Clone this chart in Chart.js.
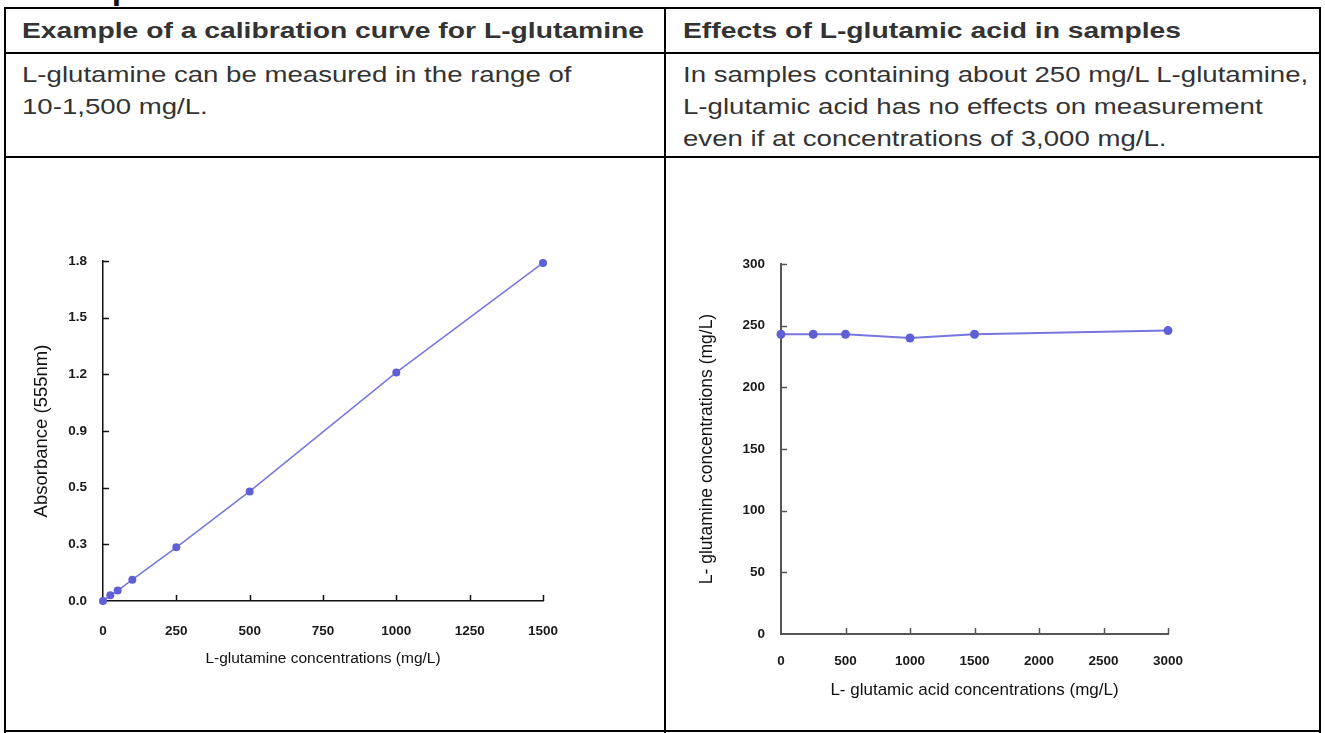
<!DOCTYPE html>
<html>
<head>
<meta charset="utf-8">
<script src="https://cdn.jsdelivr.net/npm/chart.js@4.4.1/dist/chart.umd.min.js"></script>
<style>
  html, body { margin: 0; padding: 0; background: #fff; }
  #page { position: relative; width: 1325px; height: 733px; overflow: hidden; font-family: "Liberation Sans", Arial, Helvetica, sans-serif; color: #333; }
  .hl { position: absolute; background: #000; height: 2px; }
  .vl { position: absolute; background: #000; width: 2px; }
  .txt { position: absolute; font-size: 22px; line-height: 32px; white-space: nowrap; transform: scaleX(1.255); transform-origin: 0 0; }
  .hd { position: absolute; font-size: 22px; font-weight: bold; white-space: nowrap; line-height: 32px; transform: scaleX(1.285); transform-origin: 0 0; }
  canvas { position: absolute; }
  #cut { position: absolute; left: 22px; top: -25px; font-size: 28px; font-weight: bold; color: #111; transform: scaleX(1.2); transform-origin: 0 0; }
</style>
</head>
<body>
<div id="page">
  <div id="cut">Examples</div>
  <div class="hl" style="left:5px; top:7px; width:1316px;"></div>
  <div class="hl" style="left:5px; top:52px; width:1316px;"></div>
  <div class="hl" style="left:5px; top:156px; width:1316px;"></div>
  <div class="hl" style="left:5px; top:730px; width:1316px;"></div>
  <div class="vl" style="left:4px; top:7px; height:726px;"></div>
  <div class="vl" style="left:664px; top:7px; height:726px;"></div>
  <div class="vl" style="left:1319px; top:7px; height:726px;"></div>

  <div class="hd" style="left:22px; top:15px;">Example of a calibration curve for L-glutamine</div>
  <div class="hd" style="left:683px; top:15px;">Effects of L-glutamic acid in samples</div>

  <div class="txt" style="left:22px; top:59px;">L-glutamine can be measured in the range of<br>10-1,500 mg/L.</div>
  <div class="txt" style="left:683px; top:59px;">In samples containing about 250 mg/L L-glutamine,<br>L-glutamic acid has no effects on measurement<br>even if at concentrations of 3,000 mg/L.</div>

  <canvas id="c1" width="657" height="570" style="left:6px; top:160px; width:657px; height:570px;"></canvas>
  <canvas id="c2" width="652" height="570" style="left:667px; top:160px; width:652px; height:570px;"></canvas>
</div>
<script>
// ---- Data: calibration curve ----
const calibConc = [0, 25, 50, 100, 250, 500, 1000, 1500];
const calibAbs = [0, 0.03, 0.055, 0.113, 0.284, 0.58, 1.21, 1.79];
const calibXTicks = ["0", "250", "500", "750", "1000", "1250", "1500"];
const calibYTicks = ["0.0", "0.3", "0.5", "0.9", "1.2", "1.5", "1.8"];

// ---- Data: glutamic acid effect ----
const gluAcidConc = [0, 250, 500, 1000, 1500, 3000];
const glnMeasured = [243, 243, 243, 240, 243, 246];
const effXTicks = ["0", "500", "1000", "1500", "2000", "2500", "3000"];
const effYTicks = ["0", "50", "100", "150", "200", "250", "300"];

const FONT = "'Liberation Sans', Arial, Helvetica, sans-serif";
const lineCol = 'rgb(118,118,222)';
const ptCol = 'rgb(96,96,214)';

const inwardTicks = {
  id: 'inwardTicks',
  afterDraw(chart, args, opts) {
    const ctx = chart.ctx;
    const xs = chart.scales.x, ys = chart.scales.y;
    const area = chart.chartArea;
    ctx.save();
    ctx.strokeStyle = opts.color;
    ctx.lineWidth = opts.width;
    ys.ticks.forEach(t => {
      if (t.value === ys.min) return;
      const py = Math.round(ys.getPixelForValue(t.value)) + 0.5;
      ctx.beginPath();
      ctx.moveTo(area.left, py);
      ctx.lineTo(area.left + opts.len, py);
      ctx.stroke();
    });
    xs.ticks.forEach(t => {
      if (t.value === xs.min) return;
      const px = Math.round(xs.getPixelForValue(t.value)) + 0.5;
      ctx.beginPath();
      ctx.moveTo(px, area.bottom);
      ctx.lineTo(px, area.bottom - opts.len);
      ctx.stroke();
    });
    ctx.restore();
  }
};

function makeChart(id, cfg) {
  return new Chart(document.getElementById(id), {
    type: 'scatter',
    data: {
      datasets: [{
        data: cfg.xs.map((x, i) => ({ x: x, y: cfg.ys[i] })),
        showLine: true,
        borderColor: lineCol,
        borderWidth: cfg.lineW,
        backgroundColor: ptCol,
        pointBackgroundColor: ptCol,
        pointBorderColor: ptCol,
        pointRadius: cfg.ptR,
        pointBorderWidth: 0,
        tension: 0,
        clip: false
      }]
    },
    options: {
      responsive: false,
      animation: false,
      events: [],
      layout: { padding: cfg.pad },
      plugins: {
        legend: { display: false },
        tooltip: { enabled: false },
        inwardTicks: { color: cfg.axisCol, width: cfg.tickW, len: 6 }
      },
      scales: {
        x: {
          type: 'linear', min: cfg.xMin, max: cfg.xMax,
          afterFit: s => { s.height = cfg.xH; },
          afterBuildTicks: s => { s.ticks = cfg.xTickLabels.map((l, i) => ({ value: cfg.xMin + i * cfg.xStep })); },
          grid: { display: false, drawTicks: false },
          border: { display: true, color: cfg.axisCol, width: cfg.axisW },
          ticks: {
            autoSkip: false, maxRotation: 0, padding: cfg.xTickPad,
            color: '#1a1a1a', font: { family: FONT, size: cfg.tickSize, weight: 'bold' },
            callback: (v, i) => cfg.xTickLabels[i]
          },
          title: {
            display: true, text: cfg.xTitle, color: '#111',
            font: { family: FONT, size: cfg.xTitleSize },
            padding: { top: 0, bottom: cfg.xTitlePad }
          }
        },
        y: {
          type: 'linear', min: cfg.yMin, max: cfg.yMax,
          afterFit: s => { s.width = cfg.yW; },
          afterBuildTicks: s => { s.ticks = cfg.yTickLabels.map((l, i) => ({ value: cfg.yMin + i * cfg.yStep })); },
          grid: { display: false, drawTicks: false },
          border: { display: true, color: cfg.axisCol, width: cfg.axisW },
          ticks: {
            autoSkip: false, padding: cfg.yTickPad,
            color: '#1a1a1a', font: { family: FONT, size: cfg.tickSize, weight: 'bold' },
            callback: (v, i) => cfg.yTickLabels[i]
          },
          title: {
            display: true, text: cfg.yTitle, color: '#111',
            font: { family: FONT, size: cfg.yTitleSize },
            padding: { top: cfg.yTitlePad, bottom: 0 }
          }
        }
      }
    },
    plugins: [inwardTicks]
  });
}

makeChart('c1', {
  xs: calibConc, ys: calibAbs,
  xMin: 0, xMax: 1500, xStep: 250, xTickLabels: calibXTicks,
  yMin: 0, yMax: 1.8, yStep: 0.3, yTickLabels: calibYTicks,
  xTitle: 'L-glutamine concentrations (mg/L)',
  yTitle: 'Absorbance (555nm)',
  pad: { left: 0, right: 120, top: 101, bottom: 0 },
  yW: 97, xH: 129, xTickPad: 22, yTickPad: 16,
  xTitlePad: 61.7, yTitlePad: 25,
  tickSize: 13.5, xTitleSize: 15.5, yTitleSize: 18.5,
  axisCol: '#111', axisW: 1.5, tickW: 1.5,
  lineW: 1.5, ptR: 4
});

makeChart('c2', {
  xs: gluAcidConc, ys: glnMeasured,
  xMin: 0, xMax: 3000, xStep: 500, xTickLabels: effXTicks,
  yMin: 0, yMax: 300, yStep: 50, yTickLabels: effYTicks,
  xTitle: 'L- glutamic acid concentrations (mg/L)',
  yTitle: 'L- glutamine concentrations (mg/L)',
  pad: { left: 0, right: 151, top: 104, bottom: 0 },
  yW: 114, xH: 96, xTickPad: 19, yTickPad: 16,
  xTitlePad: 29.8, yTitlePad: 29.8,
  tickSize: 13.5, xTitleSize: 17, yTitleSize: 17.5,
  axisCol: '#555', axisW: 2, tickW: 1.5,
  lineW: 2, ptR: 4.5
});
</script>
</body>
</html>
